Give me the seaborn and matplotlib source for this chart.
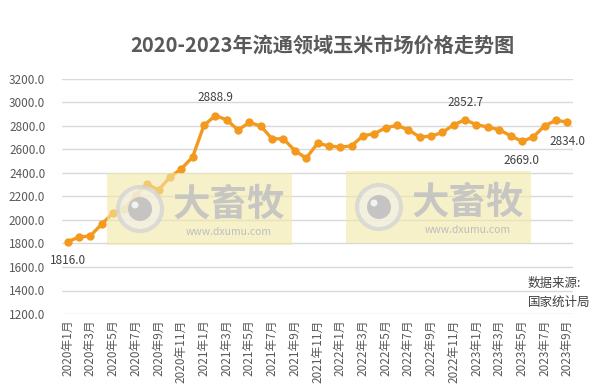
import numpy as np
import pandas as pd
import matplotlib
matplotlib.use("Agg")
import matplotlib.pyplot as plt
import seaborn as sns
from matplotlib.patches import Rectangle, Circle

# 数据：2020年1月 - 2023年9月 流通领域玉米价格（元/吨）
years = [2020] * 12 + [2021] * 12 + [2022] * 12 + [2023] * 9
months = list(range(1, 13)) * 3 + list(range(1, 10))
prices = [1816.0, 1854, 1865, 1965, 2059, 2093, 2213, 2307, 2256, 2364, 2435, 2535,
          2805, 2888.9, 2853, 2766, 2830, 2800, 2691, 2691, 2591, 2526, 2652, 2631,
          2620, 2631, 2717, 2734, 2785, 2805, 2768, 2706, 2714, 2745, 2811, 2852.7,
          2811, 2791, 2768, 2717, 2669.0, 2706, 2802, 2848, 2834.0]
labels = [f"{y}年{m}月" for y, m in zip(years, months)]

# 需要标注的点: (索引, 位置)
marked = {0: "below", 13: "above", 35: "above", 40: "below", 44: "below"}

df = pd.DataFrame({"idx": range(len(prices)), "month": labels, "price": prices})

sns.set_theme(style="white")
plt.rcParams["font.family"] = ["Noto Sans CJK SC", "DejaVu Sans"]

fig = plt.figure(figsize=(6.16, 3.92), dpi=100)
ax = fig.add_axes([62 / 616, 1 - 314 / 392, (573 - 62) / 616, (314 - 79) / 392])

line_color = "#F39A1E"
sns.lineplot(data=df, x="idx", y="price", ax=ax, color=line_color, linewidth=2.4,
             marker="o", markersize=6, markeredgewidth=0, zorder=3)

ax.set_xlim(-0.5, len(prices) - 0.5)
ax.set_ylim(1200, 3200)
ax.set_yticks(np.arange(1200, 3201, 200))
ax.set_yticklabels([f"{v:.1f}" for v in np.arange(1200, 3201, 200)])
ax.set_xticks(df["idx"][::2])
ax.set_xticklabels(df["month"][::2], rotation=90)
ax.tick_params(axis="both", labelsize=8.5, colors="#595959", length=0)
ax.tick_params(axis="y", pad=12)
ax.tick_params(axis="x", pad=4)
ax.yaxis.grid(True, color="#D9D9D9", linewidth=1)
for s in ax.spines.values():
    s.set_visible(False)
ax.set_xlabel("")
ax.set_ylabel("")

for i, pos in marked.items():
    dy = 8 if pos == "above" else -9
    va = "bottom" if pos == "above" else "top"
    ax.annotate(f"{prices[i]:.1f}", (df["idx"][i], prices[i]), xytext=(0, dy),
                textcoords="offset points", ha="center", va=va,
                fontsize=8.5, color="#404040")

fig.text(322 / 616, 1 - 45 / 392, "2020-2023年流通领域玉米市场价格走势图",
         ha="center", va="center", fontsize=14.5, fontweight="bold", color="#595959")

fig.text(528 / 616, 1 - 283 / 392, "数据来源:", ha="left", va="center",
         fontsize=9, color="#404040")
fig.text(528 / 616, 1 - 302 / 392, "国家统计局", ha="left", va="center",
         fontsize=9, color="#404040")

# 水印
def watermark(x0, y0):
    w, h = 185, 72
    fig.patches.append(Rectangle((x0 / 616, 1 - (y0 + h) / 392), w / 616, h / 392,
                                 transform=fig.transFigure, facecolor="#F3E9A8",
                                 alpha=0.6, edgecolor="none", zorder=5))
    cx, cy = x0 + 33, 392 - (y0 + 36)
    fig.patches.append(Circle((cx, cy), 22, transform=None,
                              facecolor="#F2F0E6", edgecolor="#D3D3D3",
                              linewidth=3, alpha=0.75, zorder=6))
    fig.patches.append(Circle((cx, cy), 12, transform=None,
                              facecolor="#BDBDBD", edgecolor="none",
                              alpha=0.85, zorder=7))
    fig.patches.append(Circle((cx - 5, cy + 4), 3.5, transform=None,
                              facecolor="#F2F2F2", edgecolor="none", zorder=8))
    fig.text((x0 + 122) / 616, 1 - (y0 + 31) / 392, "大畜牧", ha="center",
             va="center", fontsize=27, fontweight="bold", color="#C2C2C2",
             alpha=0.9, zorder=8)
    fig.text((x0 + 122) / 616, 1 - (y0 + 59) / 392, "www.dxumu.com", ha="center",
             va="center", fontsize=7.5, color="#BDBDBD", zorder=8)

watermark(107, 173)
watermark(346, 171)

fig.savefig("out.png", dpi=100)
